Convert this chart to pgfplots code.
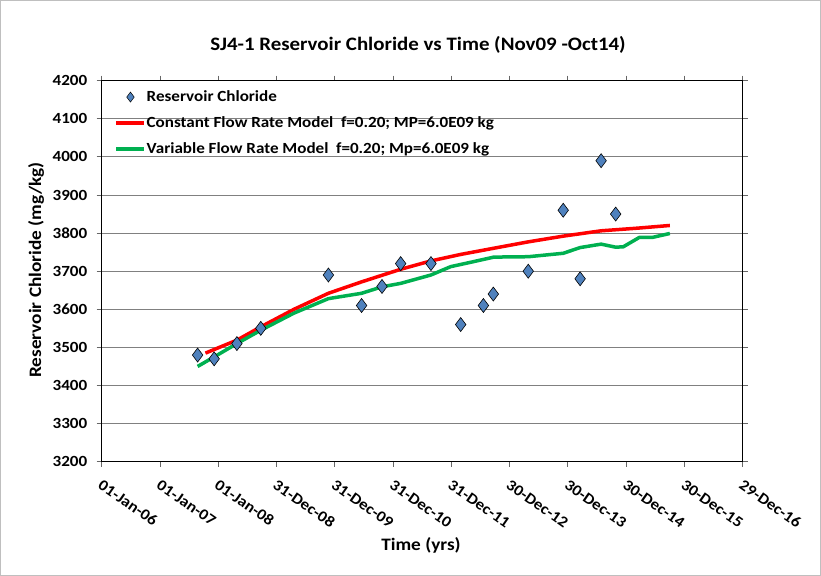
\documentclass[border=0pt]{standalone}
\usepackage{pgfplots}
\pgfplotsset{compat=1.18}
\usepackage{fontspec}
\setmainfont{Carlito}[FakeStretch=1.1]
\definecolor{dblue}{RGB}{79,129,189}
\definecolor{xred}{RGB}{255,0,0}
\definecolor{xgreen}{RGB}{0,176,80}
\begin{document}
\begin{tikzpicture}[x=1bp,y=1bp]
\path[draw=gray!50, line width=1bp] (0.5,0.5) rectangle (820.5,575.5);
\begin{axis}[
  at={(101.7bp,114.3bp)}, anchor=south west, scale only axis,
  width=641bp, height=381bp,
  xmin=0, xmax=11, ymin=3200, ymax=4200,
  xtick={0,1,...,11},
  xticklabels={01-Jan-06,01-Jan-07,01-Jan-08,31-Dec-08,31-Dec-09,31-Dec-10,31-Dec-11,30-Dec-12,30-Dec-13,30-Dec-14,30-Dec-15,29-Dec-16},
  ytick={3200,3300,...,4200},
  ymajorgrids, grid style={black!50, line width=0.9bp},
  tick align=outside, major tick length=5bp,
  tick style={black!60, line width=0.9bp},
  axis line style={black, line width=1.5bp},
  /pgf/number format/assume math mode=true,
  /pgf/number format/1000 sep={},
  tick label style={font=\fontsize{15.5bp}{18bp}\selectfont\bfseries},
  y tick label style={xshift=-6bp},
  x tick label style={rotate=-35, anchor=north west, inner sep=0bp, xshift=8bp, yshift=-9bp},
  legend style={at={(0.02,0.975)}, anchor=north west, draw=none, fill=none,
    font=\fontsize{15.5bp}{18bp}\selectfont\bfseries, row sep=12.5bp, inner sep=0bp,
    nodes={inner sep=0.5bp}},
  legend cell align=left,
]
\addplot[only marks, mark=diamond*, mark size=7bp, mark options={fill=dblue, draw=black, line width=0.6bp},
  legend image code/.code={\draw[mark=diamond*, mark size=5bp, mark options={fill=dblue, draw=black, line width=0.5bp}] plot coordinates {(14bp,0bp)};}]
 coordinates {
 (1.646,3480) (1.93,3470) (2.32,3510) (2.73,3550) (3.89,3690) (4.46,3610)
 (4.81,3660) (5.13,3720) (5.65,3720) (6.16,3560) (6.55,3610) (6.72,3640)
 (7.32,3700) (7.92,3860) (8.21,3680) (8.57,3990) (8.82,3850)
 };
\addlegendentry{Reservoir Chloride}
\addplot[xred, line width=3.5bp, line join=round,
  legend image code/.code={\draw[xred, line width=3.5bp] (0bp,0bp) -- (28bp,0bp);}] coordinates {
 (1.78,3485) (2.32,3519) (2.73,3554) (3.3,3600) (3.89,3642) (4.46,3672)
 (5.13,3705) (5.65,3727) (6.16,3744) (6.72,3760) (7.32,3777) (7.92,3792)
 (8.57,3806) (9.2,3813) (9.75,3820)
 };
\addlegendentry{Constant Flow Rate Model\ \ f=0.20; MP=6.0E09 kg}
\addplot[xgreen, line width=3.5bp, line join=round,
  legend image code/.code={\draw[xgreen, line width=3.5bp] (0bp,0bp) -- (28bp,0bp);}] coordinates {
 (1.646,3450) (1.93,3475) (2.32,3510) (2.73,3545) (3.3,3590) (3.89,3628)
 (4.46,3642) (4.81,3659) (5.13,3668) (5.65,3690) (5.99,3712) (6.35,3724)
 (6.73,3737) (7.32,3738) (7.92,3747) (8.21,3762) (8.57,3771) (8.82,3763)
 (8.95,3764) (9.23,3789) (9.46,3789) (9.75,3799)
 };
\addlegendentry{Variable Flow Rate Model\ \ f=0.20; Mp=6.0E09 kg}
\end{axis}
\node[font=\fontsize{19bp}{22bp}\selectfont\bfseries] at (418,531) {SJ4-1 Reservoir Chloride vs Time (Nov09 -Oct14)};
\node[font=\fontsize{17.5bp}{20bp}\selectfont\bfseries, rotate=90] at (36,306) {Reservoir Chloride (mg/kg)};
\node[font=\fontsize{17.5bp}{20bp}\selectfont\bfseries] at (421,31) {Time (yrs)};
\end{tikzpicture}
\end{document}
